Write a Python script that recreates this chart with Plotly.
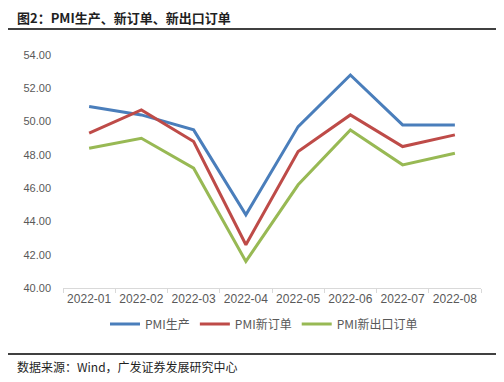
import plotly.graph_objects as go

months = ["2022-01", "2022-02", "2022-03", "2022-04", "2022-05", "2022-06", "2022-07", "2022-08"]
pmi_production = [50.9, 50.4, 49.5, 44.4, 49.7, 52.8, 49.8, 49.8]
pmi_new_orders = [49.3, 50.7, 48.8, 42.6, 48.2, 50.4, 48.5, 49.2]
pmi_new_export_orders = [48.4, 49.0, 47.2, 41.6, 46.2, 49.5, 47.4, 48.1]
y_ticks = [40, 42, 44, 46, 48, 50, 52, 54]

series = [
    ("PMI生产", pmi_production, "#4A7EBB"),
    ("PMI新订单", pmi_new_orders, "#BE4B48"),
    ("PMI新出口订单", pmi_new_export_orders, "#98B954"),
]

W, H = 504, 382
OFF = 8  # page body margin offset
# target plot area in screen pixels
SL, SR, ST, SB = 63, 481, 55, 288
L = SL - OFF
T = ST - OFF
R = W - (SR - OFF)
B = H - (SB - OFF)
ph = H - T - B

def py(pix):
    return (H - B - (pix - OFF)) / ph

def px(pix):
    return ((pix - OFF) - L) / (W - L - R)

fig = go.Figure()
for name, vals, col in series:
    fig.add_trace(go.Scatter(x=months, y=vals, mode="lines", name=name,
                             line=dict(color=col, width=3)))

fig.update_layout(
    width=W, height=H,
    margin=dict(l=L, r=R, t=T, b=B, autoexpand=False),
    paper_bgcolor="white", plot_bgcolor="white",
    showlegend=True,
    legend=dict(orientation="h", x=px(264), xanchor="center", y=py(324), yanchor="middle",
                font=dict(family="Noto Sans CJK SC", size=12, color="#595959"),
                itemwidth=30, tracegroupgap=0, bgcolor="rgba(0,0,0,0)"),
    xaxis=dict(type="category", showgrid=False, showline=True, linecolor="#D9D9D9", linewidth=1,
               ticks="outside", ticklen=4, tickcolor="#D9D9D9", tickson="boundaries",
               tickangle=0, automargin=False,
               tickfont=dict(family="Arial", size=12, color="#595959"), range=[-0.5, 7.5]),
    yaxis=dict(range=[40, 54], tickvals=y_ticks, ticktext=[f"{v:.2f}" for v in y_ticks],
               showgrid=False, showline=False, zeroline=False, ticks="", ticklabelstandoff=11,
               automargin=False,
               tickfont=dict(family="Arial", size=11, color="#595959")),
    font=dict(family="Arial"),
)

fig.add_annotation(text="<b>图2：PMI生产、新订单、新出口订单</b>", xref="paper", yref="paper",
                   x=px(15), y=py(18), xanchor="left", yanchor="middle", showarrow=False,
                   font=dict(family="Noto Sans CJK SC", size=13, color="#1F1F1F"))
fig.add_annotation(text="数据来源：Wind，广发证券发展研究中心", xref="paper", yref="paper",
                   x=px(15), y=py(366), xanchor="left", yanchor="middle", showarrow=False,
                   font=dict(family="Noto Sans CJK SC", size=12, color="#1F1F1F"))
for yy in (29, 354):
    fig.add_shape(type="line", xref="paper", yref="paper", x0=px(8), x1=px(512),
                  y0=py(yy), y1=py(yy), line=dict(color="black", width=1.5))

fig.write_html("out.html")
